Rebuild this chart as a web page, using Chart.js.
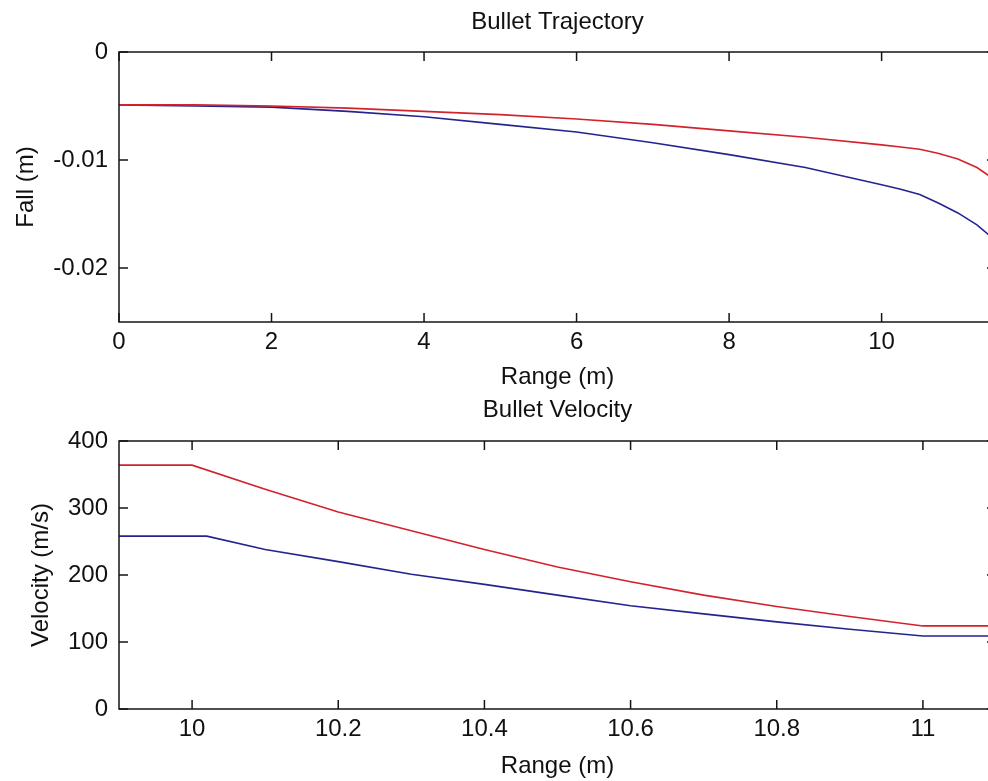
<!DOCTYPE html>
<html>
<head>
<meta charset="utf-8">
<script src="https://cdn.jsdelivr.net/npm/chart.js@4"></script>
<style>
    html, body { margin: 0; padding: 0; background: #fff; overflow: hidden; width: 988px; height: 781px; }
    canvas { position: absolute; left: 0; }
    #fallChart { top: 0; }
    #velocityChart { top: 389px; }
</style>
</head>
<body>
<canvas id="fallChart" width="1000" height="392"></canvas>
<canvas id="velocityChart" width="1000" height="392"></canvas>
<script>
// trajectory (top plot)
const fallRange = [0, 1, 2, 3, 4, 5, 6, 7, 8, 9, 10, 10.25, 10.5, 10.75, 11, 11.25, 11.5];
const fallRed = [-0.0049, -0.0049, -0.0050, -0.0052, -0.0055, -0.0058, -0.0062, -0.0067, -0.0073, -0.0079, -0.0086, -0.0088, -0.0090, -0.0094, -0.0099, -0.0107, -0.0119];
const fallBlue = [-0.0049, -0.0050, -0.0051, -0.0055, -0.0060, -0.0067, -0.0074, -0.0084, -0.0095, -0.0107, -0.0123, -0.0127, -0.0132, -0.0140, -0.0149, -0.0160, -0.0175];
const fallXTicks = [0, 2, 4, 6, 8, 10];
const fallYTicks = [0, -0.01, -0.02];

// velocity (bottom plot)
const velRangeRed = [9.9, 10.0, 10.1, 10.2, 10.3, 10.4, 10.5, 10.6, 10.7, 10.8, 10.9, 11.0, 11.1];
const velRed = [364, 364, 328, 294, 266, 238, 212, 190, 170, 153, 138, 124, 124];
const velRangeBlue = [9.9, 10.02, 10.1, 10.2, 10.3, 10.4, 10.5, 10.6, 10.7, 10.8, 10.9, 11.0, 11.1];
const velBlue = [258, 258, 238, 220, 201, 186, 170, 154, 142, 130, 119, 109, 109];
const velXTicks = [10, 10.2, 10.4, 10.6, 10.8, 11];
const velYTicks = [0, 100, 200, 300, 400];

const FONT = { family: '"Liberation Sans", Arial, sans-serif', size: 24 };
const RED = '#d3222c';
const BLUE = '#24248f';

function toPoints(xs, ys) {
    return xs.map((x, i) => ({ x: x, y: ys[i] }));
}

// matlab style box with inward ticks
const boxPlugin = {
    id: 'box',
    afterDatasetsDraw(chart) {
        const { ctx, chartArea: a, scales } = chart;
        const len = 9;
        ctx.save();
        ctx.strokeStyle = '#151515';
        ctx.lineWidth = 1.5;
        ctx.strokeRect(a.left, a.top, a.right - a.left, a.bottom - a.top);
        ctx.beginPath();
        scales.x.ticks.forEach(t => {
            const px = scales.x.getPixelForValue(t.value);
            ctx.moveTo(px, a.bottom); ctx.lineTo(px, a.bottom - len);
            ctx.moveTo(px, a.top); ctx.lineTo(px, a.top + len);
        });
        scales.y.ticks.forEach(t => {
            const py = scales.y.getPixelForValue(t.value);
            ctx.moveTo(a.left, py); ctx.lineTo(a.left + len, py);
            ctx.moveTo(a.right, py); ctx.lineTo(a.right - len, py);
        });
        ctx.stroke();
        ctx.restore();
    }
};

function makeChart(id, cfg) {
    const ctx = document.getElementById(id).getContext('2d');
    new Chart(ctx, {
        type: 'line',
        data: {
            datasets: [
                {
                    data: cfg.red,
                    borderColor: RED,
                    borderWidth: 1.6,
                    pointRadius: 0,
                    tension: 0,
                    fill: false
                },
                {
                    data: cfg.blue,
                    borderColor: BLUE,
                    borderWidth: 1.6,
                    pointRadius: 0,
                    tension: 0,
                    fill: false
                }
            ]
        },
        options: {
            responsive: false,
            animation: false,
            devicePixelRatio: 1,
            layout: {
                padding: { left: cfg.padLeft, right: 4, top: 0, bottom: 0 }
            },
            scales: {
                x: {
                    type: 'linear',
                    position: 'bottom',
                    min: cfg.xMin,
                    max: cfg.xMax,
                    grid: { display: false, drawTicks: false },
                    border: { display: false },
                    afterBuildTicks: s => { s.ticks = cfg.xTicks.map(v => ({ value: v })); },
                    afterFit: s => { s.height = cfg.xHeight; },
                    ticks: {
                        color: '#111',
                        font: FONT,
                        padding: 6,
                        maxRotation: 0,
                        callback: v => String(v)
                    },
                    title: {
                        display: true,
                        text: 'Range (m)',
                        color: '#111',
                        font: FONT,
                        padding: { top: 0, bottom: 0 }
                    }
                },
                top: {
                    type: 'linear',
                    position: 'top',
                    grid: { display: false, drawTicks: false },
                    border: { display: false },
                    ticks: { display: false },
                    afterFit: s => { s.height = 52; },
                    title: {
                        display: true,
                        text: cfg.title,
                        color: '#111',
                        font: FONT,
                        padding: { top: cfg.titleTop, bottom: 0 }
                    }
                },
                y: {
                    type: 'linear',
                    position: 'left',
                    min: cfg.yMin,
                    max: cfg.yMax,
                    grid: { display: false, drawTicks: false },
                    border: { display: false },
                    afterBuildTicks: s => { s.ticks = cfg.yTicks.map(v => ({ value: v })); },
                    afterFit: s => { s.width = 119 - cfg.padLeft; },
                    ticks: {
                        color: '#111',
                        font: FONT,
                        padding: 11,
                        callback: v => String(v)
                    },
                    title: {
                        display: true,
                        text: cfg.yLabel,
                        color: '#111',
                        font: FONT,
                        padding: { top: 0, bottom: 0 }
                    }
                }
            },
            plugins: {
                legend: { display: false },
                title: { display: false },
                tooltip: { enabled: false }
            }
        },
        plugins: [boxPlugin]
    });
}

makeChart('fallChart', {
    red: toPoints(fallRange, fallRed),
    blue: toPoints(fallRange, fallBlue),
    xMin: 0, xMax: 11.5,
    yMin: -0.025, yMax: 0,
    xTicks: fallXTicks,
    yTicks: fallYTicks,
    xHeight: 70,
    padLeft: 12,
    titleTop: 8,
    title: 'Bullet Trajectory',
    yLabel: 'Fall (m)'
});

makeChart('velocityChart', {
    red: toPoints(velRangeRed, velRed),
    blue: toPoints(velRangeBlue, velBlue),
    xMin: 9.9, xMax: 11.1,
    yMin: 0, yMax: 400,
    xTicks: velXTicks,
    yTicks: velYTicks,
    xHeight: 72,
    padLeft: 27,
    titleTop: 7,
    title: 'Bullet Velocity',
    yLabel: 'Velocity (m/s)'
});
</script>
</body>
</html>
